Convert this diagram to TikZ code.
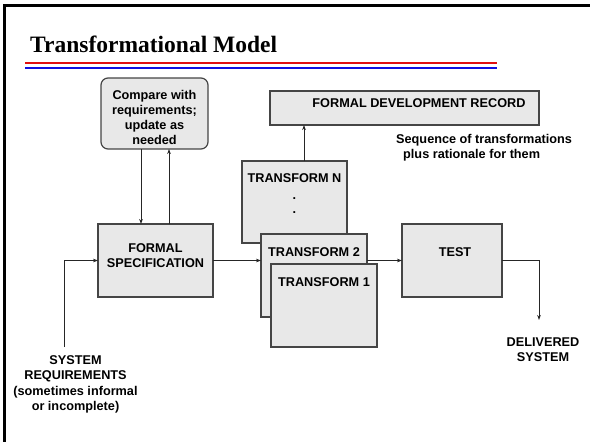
\documentclass[tikz,border=0pt]{standalone}
\usepackage{fontspec}
\setmainfont{Liberation Sans}
\newfontfamily\titlefont{Liberation Serif}
\usetikzlibrary{arrows.meta}
\definecolor{boxfill}{HTML}{E8E8E8}
\definecolor{boxline}{HTML}{454545}
\definecolor{linered}{HTML}{E01010}
\definecolor{lineblue}{HTML}{1010E0}
\tikzset{
  box/.style={draw=boxline, fill=boxfill, line width=1.2pt, inner sep=0pt, outer sep=0pt, anchor=north west},
  lbl/.style={font=\bfseries\fontsize{12.7}{15.3}\selectfont, align=center, inner sep=0pt},
  arr/.style={draw=black!85, line width=0.8pt, -{Stealth[length=5pt,width=3.6pt]}},
  conn/.style={draw=black!85, line width=0.8pt}
}
\begin{document}
\begin{tikzpicture}[x=1pt,y=-1pt]
\useasboundingbox (0,0) rectangle (590,442);
% frame
\draw[line width=3pt] (4.5,442) -- (4.5,5.5) -- (590,5.5);
% title
\node[anchor=base west, inner sep=0pt, font=\titlefont\bfseries\fontsize{23.5}{28}\selectfont] (title) at (30,52) {Transformational Model};
\draw[linered, line width=2pt] (25,63) -- (497,63);
\draw[lineblue, line width=2pt] (25,68) -- (497,68);
% boxes
\node[box, rounded corners=7pt, minimum width=107pt, minimum height=71pt] (cmp) at (101,78) {};
\node[lbl] (cmptxt) at (154.5,117.5) {Compare with\\requirements;\\update as\\needed};
\node[box, minimum width=269pt, minimum height=34pt] (rec) at (270,91) {};
\node[lbl] (rectxt) at (419,103) {FORMAL DEVELOPMENT RECORD};
\node[lbl, align=left, anchor=west] (seq) at (396,148) {Sequence of transformations\\\hspace*{7pt}plus rationale for them};
\node[box, minimum width=115pt, minimum height=73pt] (spec) at (98,224) {};
\node[lbl] (spectxt) at (155.5,255.5) {FORMAL\\SPECIFICATION};
\node[box, minimum width=105pt, minimum height=82pt] (tN) at (242,161) {};
\node[lbl] (tNtxt) at (294.5,178) {TRANSFORM N};
\node[lbl, font=\bfseries\fontsize{12.7}{14}\selectfont] (dots) at (294.5,206) {.\\.};
\node[box, minimum width=106pt, minimum height=83pt] (t2) at (261,234) {};
\node[lbl] (t2txt) at (314,252) {TRANSFORM 2};
\node[box, minimum width=106pt, minimum height=83pt] (t1) at (271,264) {};
\node[lbl] (t1txt) at (324,282) {TRANSFORM 1};
\node[box, minimum width=100pt, minimum height=73pt] (test) at (402,224) {};
\node[lbl] (testtxt) at (455,252) {TEST};
\node[lbl] (deliv) at (543,349.5) {DELIVERED\\SYSTEM};
\node[lbl] (req) at (75.5,384.5) {SYSTEM\\REQUIREMENTS\\(sometimes informal\\or incomplete)};
% connectors
\coordinate (a1) at (141,0);
\coordinate (a2) at (169,0);
\coordinate (a3) at (304,0);
\coordinate (r0) at (64,347);
\coordinate (d0) at (539,320);
\draw[arr] (a1 |- cmp.south) -- (a1 |- spec.north);
\draw[arr] (a2 |- spec.north) -- (a2 |- cmp.south);
\draw[arr] (a3 |- tN.north) -- (a3 |- rec.south);
\draw[arr] (r0) |- (spec.west);
\draw[arr] (spec.east) -- (spec.east -| t2.west);
\draw[arr] (t2.east |- test.west) -- (test.west);
\draw[arr] (test.east) -| (d0);
\end{tikzpicture}
\end{document}
